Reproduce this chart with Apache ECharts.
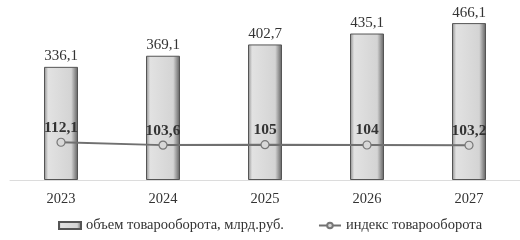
<!DOCTYPE html>
<html>
<head>
<meta charset="utf-8">
<script src="https://cdn.jsdelivr.net/npm/echarts@6/dist/echarts.min.js"></script>
<style>
  html, body { margin: 0; padding: 0; background: #fff; }
  #chart { width: 520px; height: 240px; }
</style>
</head>
<body>
<div id="chart"></div>
<script>
  // данные
  const years = ['2023', '2024', '2025', '2026', '2027']
  const turnover = [336.1, 369.1, 402.7, 435.1, 466.1]
  const turnoverIndex = [112.1, 103.6, 105, 104, 103.2]

  const fmt = v => String(v).replace('.', ',')
  const font = '"Liberation Serif", "DejaVu Serif", serif'

  const chart = echarts.init(document.getElementById('chart'))
  const option = {
    animation: false,
    textStyle: { fontFamily: font },
    grid: { left: 10, right: -2, top: 10, bottom: 60 },
    legend: {
      bottom: 2,
      left: 53,
      itemGap: 34,
      itemWidth: 22,
      itemHeight: 7,
      textStyle: { fontFamily: font, fontSize: 14.5, color: '#333' },
      data: [
        { name: 'объем товарооборота, млрд.руб.', icon: 'rect' },
        { name: 'индекс товарооборота' }
      ]
    },
    xAxis: {
      type: 'category',
      data: years,
      axisLine: { lineStyle: { color: '#dcdcdc', width: 1 } },
      axisTick: { show: false },
      axisLabel: { fontFamily: font, fontSize: 14.5, color: '#333', margin: 12 }
    },
    yAxis: {
      type: 'value',
      min: 0,
      max: 505,
      show: false,
      splitLine: { show: false }
    },
    series: [
      {
        name: 'объем товарооборота, млрд.руб.',
        type: 'bar',
        data: turnover,
        barWidth: 34,
        itemStyle: {
          color: new echarts.graphic.LinearGradient(0, 0, 1, 0, [
            { offset: 0, color: '#8a8a8a' },
            { offset: 0.12, color: '#e2e2e2' },
            { offset: 0.8, color: '#d4d4d4' },
            { offset: 1, color: '#5e5e5e' }
          ]),
          borderColor: '#555',
          borderWidth: 1
        },
        label: {
          show: true,
          position: 'top',
          distance: 3,
          fontFamily: font,
          fontSize: 15,
          color: '#333',
          formatter: p => fmt(p.value)
        }
      },
      {
        name: 'индекс товарооборота',
        type: 'line',
        data: turnoverIndex,
        symbol: 'circle',
        symbolSize: 8,
        lineStyle: { color: '#707070', width: 2 },
        itemStyle: { color: '#d8d8d8', borderColor: '#777', borderWidth: 1.2 },
        label: {
          show: true,
          position: 'top',
          distance: 2,
          fontFamily: font,
          fontSize: 15.5,
          fontWeight: 'bold',
          color: '#333',
          formatter: p => fmt(p.value)
        },
        z: 5
      }
    ]
  }
  chart.setOption(option)
</script>
</body>
</html>
